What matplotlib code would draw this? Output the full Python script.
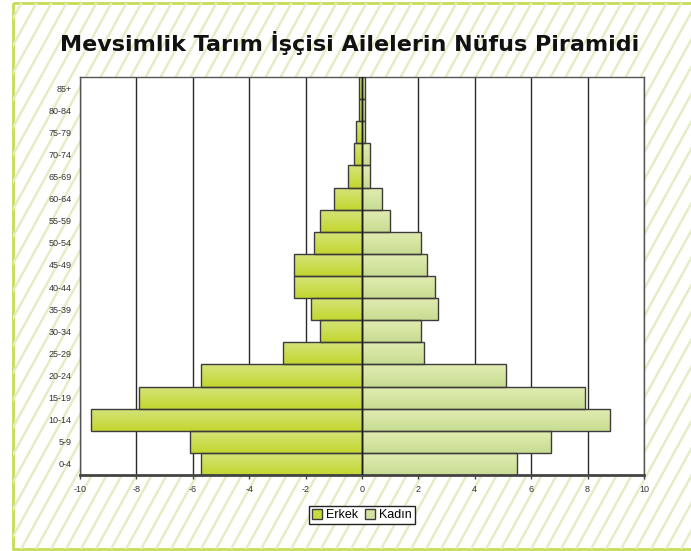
import numpy as np
import matplotlib
matplotlib.use("Agg")
import matplotlib.pyplot as plt
from matplotlib.colors import LinearSegmentedColormap
from matplotlib.patches import Rectangle, Patch

# ---- data ----
age_groups = ["0-4", "5-9", "10-14", "15-19", "20-24", "25-29", "30-34", "35-39",
              "40-44", "45-49", "50-54", "55-59", "60-64", "65-69", "70-74",
              "75-79", "80-84", "85+"]
erkek = [-5.7, -6.1, -9.6, -7.9, -5.7, -2.8, -1.5, -1.8, -2.4, -2.4, -1.7, -1.5,
         -1.0, -0.5, -0.3, -0.2, -0.1, -0.1]
kadin = [5.5, 6.7, 8.8, 7.9, 5.1, 2.2, 2.1, 2.7, 2.6, 2.3, 2.1, 1.0,
         0.7, 0.3, 0.3, 0.1, 0.1, 0.1]
x_ticks = [-10, -8, -6, -4, -2, 0, 2, 4, 6, 8, 10]
title = "Mevsimlik Tarım İşçisi Ailelerin Nüfus Piramidi"
series_names = ["Erkek", "Kadın"]

W, H = 691, 551
fig = plt.figure(figsize=(W / 100, H / 100), dpi=100)
fig.patch.set_facecolor("white")

# background hatching inside a bordered panel
bg = fig.add_axes([0, 0, 1, 1], zorder=-5)
bg.set_xlim(0, W)
bg.set_ylim(H, 0)
bg.axis("off")
panel = Rectangle((13, 3), W - 13 + 5, 546, fill=False, edgecolor="none")
bg.add_patch(panel)
slope = 0.55
for x0 in np.arange(-400, W + 50, 15):
    ln, = bg.plot([x0, x0 + slope * H], [H, 0], color="#e3ecc3", lw=1.7,
                  solid_capstyle="butt")
    ln.set_clip_path(panel)
bg.add_patch(Rectangle((13, 3), W - 13 + 5, 546, fill=False,
                       edgecolor="#c9dc55", lw=2.0))

ax = fig.add_axes([80 / W, (H - 475) / H, 564 / W, 398 / H], zorder=1)
ax.set_facecolor("white")

y = np.arange(len(age_groups))
male_cmap = LinearSegmentedColormap.from_list("m", ["#c3d62f", "#d6e47c"])
fem_cmap = LinearSegmentedColormap.from_list("f", ["#c8dc92", "#e2edb2"])
grad = np.linspace(0, 1, 64).reshape(-1, 1)

bm = ax.barh(y, erkek, height=1.0, color="#c9db3c", edgecolor="#3c3c3c",
             lw=1.0, zorder=3, label=series_names[0])
bf = ax.barh(y, kadin, height=1.0, color="#d3e4a0", edgecolor="#3c3c3c",
             lw=1.0, zorder=3, label=series_names[1])

for bars, cmap in ((bm, male_cmap), (bf, fem_cmap)):
    for b in bars:
        x0, y0 = b.get_x(), b.get_y()
        w, h = b.get_width(), b.get_height()
        im = ax.imshow(grad, extent=[x0, x0 + w, y0, y0 + h], origin="lower",
                       aspect="auto", cmap=cmap, zorder=2.5,
                       interpolation="bilinear")
        im.set_clip_path(b)

for b in list(bm) + list(bf):
    b.set_facecolor("none")

ax.axvline(0, color="#1a1a1a", lw=1.0, zorder=4)
ax.set_xlim(-10, 10)
ax.set_ylim(-0.5, len(age_groups) - 0.5)
ax.set_xticks(x_ticks)
ax.set_xticklabels([str(t) for t in x_ticks], fontsize=6.5, color="#333333",
                   family="Liberation Sans")
ax.set_yticks(y)
ax.set_yticklabels(age_groups, fontsize=6.5, color="#333333",
                   family="Liberation Sans")
ax.xaxis.grid(True, color="#2a2a2a", lw=1.0, zorder=0)
ax.set_axisbelow(True)
ax.tick_params(axis="x", length=3, width=1, color="#444444", pad=4)
ax.tick_params(axis="y", length=0, pad=6)
for s in ["top", "right", "left"]:
    ax.spines[s].set_color("#555555")
    ax.spines[s].set_linewidth(1.0)
ax.spines["bottom"].set_color("#444444")
ax.spines["bottom"].set_linewidth(2.0)

fig.text(350 / W, 1 - 43 / H, title, ha="center", va="center",
         fontsize=16, fontweight="bold", color="#111111", family="DejaVu Sans")

handles = [Patch(facecolor="#c9db3c", edgecolor="#3c3c3c"),
           Patch(facecolor="#d3e4a0", edgecolor="#3c3c3c")]
leg = fig.legend(handles, series_names, loc="center",
                 bbox_to_anchor=(362 / W, 1 - 515 / H),
                 ncol=2, frameon=True, fancybox=False,
                 handlelength=0.8, handleheight=0.8, handletextpad=0.3,
                 columnspacing=0.6, borderpad=0.25,
                 prop={"family": "Liberation Sans", "size": 9})
leg.get_frame().set_edgecolor("#222222")
leg.get_frame().set_linewidth(1.0)
leg.get_frame().set_alpha(1)

fig.savefig("out.png", dpi=100, facecolor="white")
